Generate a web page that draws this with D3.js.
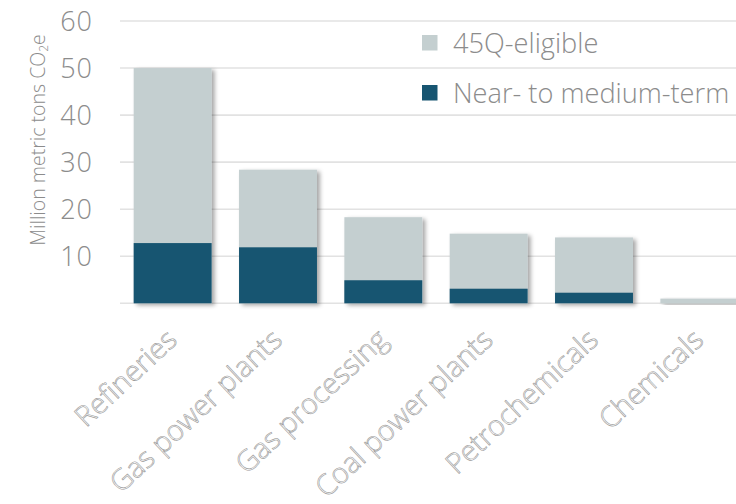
<!DOCTYPE html>
<html><head><meta charset="utf-8">
<script src="https://cdn.jsdelivr.net/npm/d3@7"></script>
<style>
html,body{margin:0;padding:0;background:#fff;}
svg{display:block;}
text{font-family:"Open Sans","Helvetica Neue",sans-serif;}
</style></head>
<body>
<svg id="chart" width="736" height="504"></svg>
<script>
const categories = ["Refineries","Gas power plants","Gas processing","Coal power plants","Petrochemicals","Chemicals"];
const eligible = [50, 28.4, 18.3, 14.8, 14.0, 1.0];
const nearTerm = [12.8, 11.9, 4.9, 3.1, 2.25, 0];
const yTicks = [10, 20, 30, 40, 50, 60];
const gridTicks = [0, 10, 20, 30, 40, 50, 60];
const legendLabels = ["45Q-eligible", "Near- to medium-term"];
const colors = ["#c4cfd0", "#175571"];

const svg = d3.select("#chart");
const textColor = "#8c8c8c";

const defs = svg.append("defs");
const f = defs.append("filter").attr("id","shadow").attr("x","-20%").attr("y","-20%").attr("width","150%").attr("height","150%");
f.append("feDropShadow").attr("dx",3).attr("dy",2).attr("stdDeviation",2).attr("flood-color","#000").attr("flood-opacity",0.35);

const x = d3.scaleBand().domain(categories).range([120, 752]).paddingInner(0.26).paddingOuter(0.13);
const y = d3.scaleLinear().domain([0, 60]).range([303.3, 21]);

// gridlines
svg.append("g").selectAll("line").data(gridTicks).join("line")
  .attr("x1", 120).attr("x2", 736)
  .attr("y1", d => y(d)).attr("y2", d => y(d))
  .attr("stroke", "#e2e2e2").attr("stroke-width", 1.6);

// y tick labels
svg.append("g").selectAll("text").data(yTicks).join("text")
  .attr("x", 93).attr("y", d => y(d)).attr("dy", "0.36em")
  .attr("text-anchor", "end").attr("font-size", 27).attr("font-weight", 300)
  .attr("letter-spacing", 1)
  .attr("fill", textColor).text(d => d);

// y axis title
const yt = svg.append("text")
  .attr("transform", "translate(45,140) rotate(-90)")
  .attr("text-anchor", "middle").attr("font-size", 19.5).attr("font-weight", 300)
  .attr("fill", textColor);
yt.append("tspan").text("Million metric tons CO");
yt.append("tspan").attr("font-size", 12).attr("dy", 3).text("2");
yt.append("tspan").attr("dy", -3).text("e");

// bars
const data = categories.map((c, i) => ({c, total: eligible[i], near: nearTerm[i]}));
const bars = svg.append("g");
bars.selectAll("rect.total").data(data).join("rect")
  .attr("class","total")
  .attr("x", d => x(d.c)).attr("width", x.bandwidth())
  .attr("y", d => y(d.total)).attr("height", d => y(0) - y(d.total))
  .attr("fill", colors[0]).attr("filter","url(#shadow)");
bars.selectAll("rect.near").data(data.filter(d => d.near > 0)).join("rect")
  .attr("class","near")
  .attr("x", d => x(d.c)).attr("width", x.bandwidth())
  .attr("y", d => y(d.near)).attr("height", d => y(0) - y(d.near))
  .attr("fill", colors[1]);

// x labels (outlined)
svg.append("g").selectAll("text").data(categories).join("text")
  .attr("transform", d => `translate(${x(d) + x.bandwidth()/2 + 6},${342}) rotate(-43)`)
  .attr("text-anchor", "end").attr("font-size", 28.5).attr("font-weight", 300)
  .attr("fill", "#fff").attr("stroke", "#999").attr("stroke-width", 0.6)
  .text(d => d);

// legend
const lg = svg.append("g");
legendLabels.forEach((l, i) => {
  const cy = 43 + i * 50;
  lg.append("rect").attr("x", 422).attr("y", cy - 8).attr("width", 15.5).attr("height", 15.5).attr("fill", colors[i]);
  lg.append("text").attr("x", 453).attr("y", cy).attr("dy","0.36em")
    .attr("font-size", 27.2).attr("font-weight", 300).attr("fill", textColor).text(l);
});
</script>
</body></html>
